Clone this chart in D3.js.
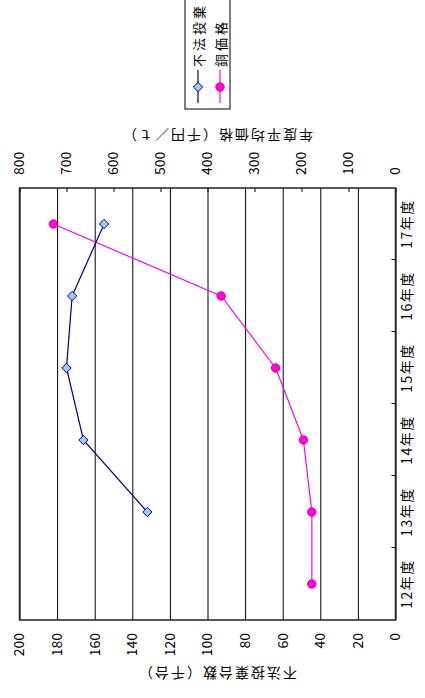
<!DOCTYPE html>
<html>
<head>
<meta charset="utf-8">
<script src="https://cdn.jsdelivr.net/npm/d3@7"></script>
<style>
  html, body { margin: 0; padding: 0; background: #fff; }
  svg { display: block; }
  text { font-family: "Noto Sans CJK JP", "Noto Sans", sans-serif; fill: #000; }
</style>
</head>
<body>
<svg id="chart" width="425" height="698"></svg>
<script>
// 年度別の家電不法投棄台数と銅価格
const categories = ["12年度", "13年度", "14年度", "15年度", "16年度", "17年度"];
const dumpingCounts = [null, 132, 166, 175, 172, 155];   // 千台
const copperPrices = [178, 178, 196, 255, 371, 728];     // 千円／ｔ
const leftTicks = [0, 20, 40, 60, 80, 100, 120, 140, 160, 180, 200];
const rightTicks = [0, 100, 200, 300, 400, 500, 600, 700, 800];
const seriesNames = ["不法投棄", "銅価格"];

const W = 698, H = 425;
const plot = { left: 78, right: 510, top: 19.5, bottom: 395.5 };

const svg = d3.select("#chart");
// chart is laid out landscape and turned a quarter turn counter-clockwise
const g = svg.append("g").attr("transform", `translate(0,${W}) rotate(-90)`);

const x = d3.scaleBand().domain(categories).range([plot.left, plot.right]).padding(0);
const xIdx = d3.scaleLinear().domain([0, categories.length]).range([plot.left, plot.right]);
const yL = d3.scaleLinear().domain([0, 200]).range([plot.bottom, plot.top]);
const yR = d3.scaleLinear().domain([0, 800]).range([plot.bottom, plot.top]);

// gridlines
g.append("g")
  .attr("transform", `translate(${plot.left},0)`)
  .call(d3.axisLeft(yL).tickValues(leftTicks).tickSize(-(plot.right - plot.left)).tickFormat(""))
  .call(s => s.select(".domain").remove())
  .call(s => s.selectAll("line").attr("stroke", "#000").attr("stroke-width", 1));

// left axis labels
const fontNum = 14;
g.append("g")
  .attr("transform", `translate(${plot.left},0)`)
  .call(d3.axisLeft(yL).tickValues(leftTicks).tickSize(0).tickPadding(13))
  .call(s => s.select(".domain").remove())
  .call(s => s.selectAll("text").style("font-size", fontNum + "px").attr("font-family", null));

// right axis with inward ticks
g.append("g")
  .attr("transform", `translate(${plot.right},0)`)
  .call(d3.axisRight(yR).tickValues(rightTicks).tickSizeInner(-4).tickSizeOuter(0).tickPadding(13))
  .call(s => s.select(".domain").remove())
  .call(s => s.selectAll("line").attr("stroke", "#000"))
  .call(s => s.selectAll("text").style("font-size", fontNum + "px").attr("font-family", null));

// category axis: boundary ticks and centred labels
g.append("g")
  .attr("transform", `translate(0,${plot.bottom})`)
  .call(d3.axisBottom(xIdx).tickValues([1, 2, 3, 4, 5]).tickSizeInner(-4).tickSizeOuter(0).tickFormat(""))
  .call(s => s.select(".domain").remove())
  .call(s => s.selectAll("line").attr("stroke", "#000"));
g.append("g")
  .attr("transform", `translate(0,${plot.bottom})`)
  .call(d3.axisBottom(x).tickSize(0).tickPadding(7))
  .call(s => s.select(".domain").remove())
  .call(s => s.selectAll("text").style("font-size", "14px").style("letter-spacing", "1.5px")
    .attr("font-family", null));

// plot frame
g.append("rect")
  .attr("x", plot.left).attr("y", plot.top)
  .attr("width", plot.right - plot.left).attr("height", plot.bottom - plot.top)
  .attr("fill", "none").attr("stroke", "#222").attr("stroke-width", 1.5);

// axis titles
const titleY = 217;
g.append("text")
  .attr("transform", `translate(24,${titleY}) rotate(-90)`)
  .attr("text-anchor", "middle").attr("dominant-baseline", "central")
  .style("font-size", "14px").style("letter-spacing", "2px")
  .text("不法投棄台数（千台）");
g.append("text")
  .attr("transform", `translate(562,${titleY}) rotate(-90)`)
  .attr("text-anchor", "middle").attr("dominant-baseline", "central")
  .style("font-size", "14px").style("letter-spacing", "2px")
  .text("年度平均価格（千円／ｔ）");

// series lines
const cx = (d, i) => x(categories[i]) + x.bandwidth() / 2;
const dumpLine = d3.line().defined(d => d != null).x((d, i) => cx(d, i)).y(d => yL(d));
const copperLine = d3.line().x((d, i) => cx(d, i)).y(d => yR(d));

g.append("path").datum(copperPrices)
  .attr("d", copperLine).attr("fill", "none").attr("stroke", "#ff00ff").attr("stroke-width", 1.2);
g.append("path").datum(dumpingCounts)
  .attr("d", dumpLine).attr("fill", "none").attr("stroke", "#000080").attr("stroke-width", 1.2);

const diamond = d3.symbol().type(d3.symbolDiamond2).size(55);

g.selectAll(".dump-pt")
  .data(dumpingCounts.map((v, i) => ({ v, i })).filter(d => d.v != null))
  .join("path")
  .attr("class", "dump-pt")
  .attr("transform", d => `translate(${cx(d.v, d.i)},${yL(d.v)})`)
  .attr("d", diamond)
  .attr("fill", "#99ccff").attr("stroke", "#000080").attr("stroke-width", 1);

g.selectAll(".cu-pt")
  .data(copperPrices.map((v, i) => ({ v, i })))
  .join("circle")
  .attr("class", "cu-pt")
  .attr("cx", d => cx(d.v, d.i)).attr("cy", d => yR(d.v)).attr("r", 4.2)
  .attr("fill", "#ff00ff").attr("stroke", "#ff0000").attr("stroke-width", 1);

// legend
const leg = g.append("g").attr("transform", "translate(589,185)");
leg.append("rect").attr("width", 130).attr("height", 45)
  .attr("fill", "#fff").attr("stroke", "#000").attr("stroke-width", 1);
const rows = [
  { name: seriesNames[0], y: 13, color: "#000080", kind: "diamond" },
  { name: seriesNames[1], y: 35, color: "#ff00ff", kind: "circle" }
];
rows.forEach(r => {
  leg.append("line").attr("x1", 6).attr("x2", 39).attr("y1", r.y).attr("y2", r.y)
    .attr("stroke", r.color).attr("stroke-width", 1.2);
  if (r.kind === "diamond") {
    leg.append("path").attr("transform", `translate(22,${r.y})`).attr("d", diamond)
      .attr("fill", "#99ccff").attr("stroke", "#000080");
  } else {
    leg.append("circle").attr("cx", 22).attr("cy", r.y).attr("r", 4.2)
      .attr("fill", "#ff00ff").attr("stroke", "#ff0000");
  }
  leg.append("text").attr("x", 42).attr("y", r.y).attr("dominant-baseline", "central")
    .style("font-size", "13px").style("letter-spacing", "3px").text(r.name);
});
</script>
</body>
</html>
